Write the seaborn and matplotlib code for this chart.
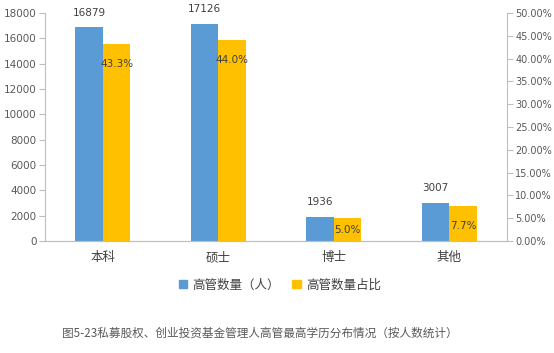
import matplotlib
matplotlib.use("Agg")
from matplotlib import pyplot as plt
from matplotlib.ticker import FuncFormatter
from matplotlib.patches import Patch
import seaborn as sns
import numpy as np
import pandas as pd

sns.set_style("white")
plt.rcParams['font.family'] = ['Noto Sans CJK SC', 'DejaVu Sans']

# data
categories = ["本科", "硕士", "博士", "其他"]
counts = [16879, 17126, 1936, 3007]
shares = [43.3, 44.0, 5.0, 7.7]
series = ["高管数量（人）", "高管数量占比"]
caption = "图5-23私募股权、创业投资基金管理人高管最高学历分布情况（按人数统计）"

blue = "#5B9BD5"
gold = "#FFC000"
grey = "#BFBFBF"
txt = "#404040"

# long table: each series only gets values on its own axis, NaN for the other
df_left = pd.DataFrame({"cat": categories * 2,
                        "series": [series[0]] * 4 + [series[1]] * 4,
                        "val": counts + [np.nan] * 4})
df_right = pd.DataFrame({"cat": categories * 2,
                         "series": [series[0]] * 4 + [series[1]] * 4,
                         "val": [np.nan] * 4 + shares})

fig = plt.figure(figsize=(5.54, 3.53), dpi=100)
ax = fig.add_axes([0.0812, 0.317, 0.834, 0.646])

pal = {series[0]: blue, series[1]: gold}
sns.barplot(data=df_left, x="cat", y="val", hue="series", hue_order=series,
            palette=pal, ax=ax, width=0.48, gap=0, saturation=1, legend=False,
            linewidth=0)
ax2 = ax.twinx()
sns.barplot(data=df_right, x="cat", y="val", hue="series", hue_order=series,
            palette=pal, ax=ax2, width=0.48, gap=0, saturation=1, legend=False,
            linewidth=0)

ax.set_ylim(0, 18000)
ax.set_yticks(np.arange(0, 18001, 2000))
ax2.set_ylim(0, 50)
ax2.set_yticks(np.arange(0, 50.1, 5))
ax2.yaxis.set_major_formatter(FuncFormatter(lambda v, p: f"{v:.2f}%"))
ax.set_xlim(-0.5, 3.5)

for a in (ax, ax2):
    a.set_xlabel("")
    a.set_ylabel("")
    a.spines["top"].set_visible(False)
    for s in ("left", "right", "bottom"):
        a.spines[s].set_color(grey)
        a.spines[s].set_linewidth(0.8)
    a.tick_params(axis="x", length=0, labelsize=9, labelcolor=txt, pad=7)
ax.tick_params(axis="y", length=4, width=0.8, color=grey, labelsize=7.5,
               labelcolor="#595959", pad=2)
ax2.tick_params(axis="y", length=4, width=0.8, color=grey, labelsize=7,
                labelcolor="#595959", pad=2)
ax.spines["right"].set_visible(False)
ax2.spines["left"].set_visible(False)
for lab in ax.get_yticklabels() + ax2.get_yticklabels():
    lab.set_family("DejaVu Sans")

# data labels
for c in ax.containers:
    vals = [b.get_height() for b in c]
    if all(np.isnan(v) for v in vals):
        continue
    ax.bar_label(c, labels=[f"{int(v)}" for v in vals], padding=7,
                 fontsize=7.5, color=txt, family="DejaVu Sans")
share_pads = [-18, -18, -12, -18]
for c in ax2.containers:
    vals = [b.get_height() for b in c]
    if all(np.isnan(v) for v in vals):
        continue
    for b, v, pad in zip(c, vals, share_pads):
        ax2.annotate(f"{v:.1f}%", (b.get_x() + b.get_width() / 2, b.get_height()),
                     xytext=(0, pad), textcoords="offset points", ha="center",
                     va="bottom", fontsize=7.5, color=txt, family="DejaVu Sans")

# legend
handles = [Patch(color=blue, label=series[0]), Patch(color=gold, label=series[1])]
fig.legend(handles=handles, loc="center", bbox_to_anchor=(0.505, 0.193), ncol=2,
           frameon=False, fontsize=9, handlelength=0.7, handleheight=0.7,
           handletextpad=0.4, columnspacing=1.0, labelcolor=txt)

fig.text(0.4685, 0.055, caption, ha="center", va="center", fontsize=8.4, color="#595959")

plt.savefig("out.png", dpi=100)
